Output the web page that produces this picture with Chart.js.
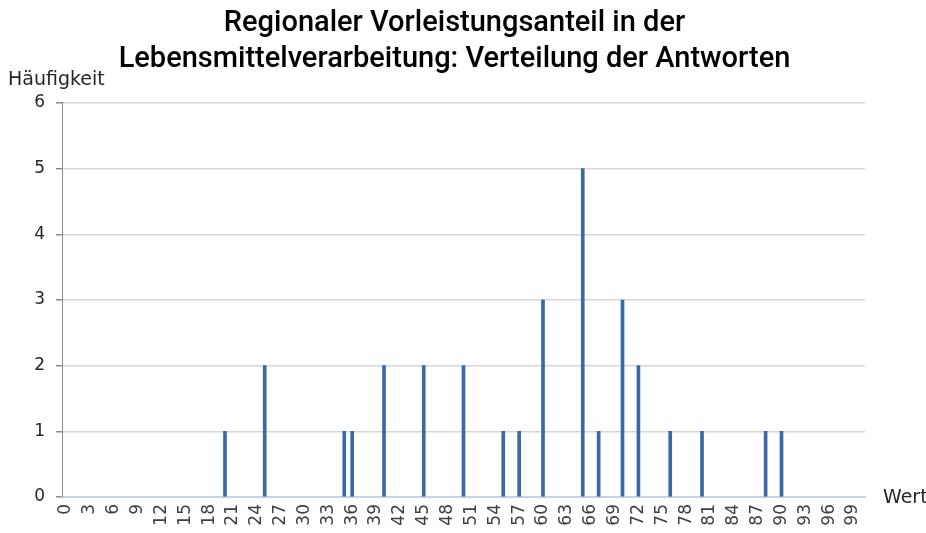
<!DOCTYPE html>
<html>
<head>
<meta charset="utf-8">
<script src="https://cdn.jsdelivr.net/npm/chart.js@4/dist/chart.umd.min.js"></script>
<style>
  html, body { margin: 0; padding: 0; background: #fff; }
  #wrap { width: 926px; height: 533px; }
</style>
</head>
<body>
<div id="wrap"><canvas id="verteilung" width="926" height="533"></canvas></div>
<script>
// Kategorien 0..100 (Antwortwerte in Prozent)
const kategorien = Array.from({ length: 101 }, (_, i) => String(i));

// Werte, die genannt wurden, und wie oft
const werte       = [20, 25, 35, 36, 40, 45, 50, 55, 57, 60, 65, 67, 70, 72, 76, 80, 88, 90];
const haeufigkeit = [ 1,  2,  1,  1,  2,  2,  2,  1,  1,  3,  5,  1,  3,  2,  1,  1,  1,  1];

const titel = ['Regionaler Vorleistungsanteil in der', 'Lebensmittelverarbeitung: Verteilung der Antworten'];

document.addEventListener('DOMContentLoaded', function(){
    montarGrafico();
});

function datenReihe(){
    return kategorien.map(function(k){
        const i = werte.indexOf(Number(k));
        return i >= 0 ? haeufigkeit[i] : null;
    });
}

// Beschriftungen: Ticks selbst gezeichnet (x von unten nach oben gedreht), Achsentitel
const beschriftung = {
    id: 'beschriftung',
    afterDraw(chart){
        const ctx = chart.ctx;
        const sx = chart.scales.x;
        const sy = chart.scales.y;
        ctx.save();
        ctx.fillStyle = '#404040';
        ctx.font = '17px "DejaVu Sans"';
        sx.ticks.forEach(function(t, i){
            if (i % 3 !== 0) return;
            const x = sx.getPixelForTick(i);
            ctx.save();
            ctx.translate(x, sx.top + 7);
            ctx.rotate(-Math.PI / 2);
            ctx.textAlign = 'right';
            ctx.textBaseline = 'middle';
            ctx.fillText(kategorien[i], 0, 0);
            ctx.restore();
        });
        ctx.fillStyle = '#262626';
        ctx.textAlign = 'right';
        ctx.textBaseline = 'middle';
        sy.ticks.forEach(function(t, i){
            ctx.fillText(String(t.value), chart.chartArea.left - 17, sy.getPixelForTick(i));
        });
        ctx.font = '19px "DejaVu Sans"';
        ctx.textAlign = 'left';
        ctx.fillText('Häufigkeit', 8, 80);
        ctx.fillText('Wert', chart.chartArea.right + 18, sx.top + 1);
        ctx.restore();
    }
};

function montarGrafico(){
    const ctx = document.getElementById('verteilung');
    new Chart(ctx, {
        type: 'bar',
        data: {
            labels: kategorien,
            datasets: [{
                label: 'Häufigkeit',
                data: datenReihe(),
                backgroundColor: '#3a69a6',
                borderWidth: 0,
                barThickness: 3
            }]
        },
        plugins: [beschriftung],
        options: {
            responsive: false,
            animation: false,
            layout: { padding: { left: 44, right: 61, top: 0, bottom: 0 } },
            plugins: {
                legend: { display: false },
                tooltip: { enabled: false },
                title: {
                    display: true,
                    text: titel,
                    color: '#000',
                    font: { family: 'Roboto', size: 29, weight: '500', lineHeight: 1.24 },
                    padding: { top: 6, bottom: 25 }
                }
            },
            scales: {
                x: {
                    grid: { display: false },
                    border: { display: true, color: '#c3d4ea', width: 2 },
                    ticks: {
                        autoSkip: false,
                        minRotation: 90,
                        maxRotation: 90,
                        color: 'rgba(0,0,0,0)',
                        font: { size: 16 },
                        callback: function(val, index){ return index % 3 === 0 ? this.getLabelForValue(val) : ''; }
                    },
                    afterFit: function(scale){ scale.height = 36; }
                },
                y: {
                    min: 0,
                    max: 6,
                    ticks: {
                        stepSize: 1,
                        color: 'rgba(0,0,0,0)',
                        padding: 0,
                        font: { size: 12 }
                    },
                    grid: { color: '#d6d6d6', lineWidth: 1.5, tickLength: 6, tickColor: '#8c8c8c' },
                    border: { color: '#8c8c8c', width: 1 },
                    afterFit: function(scale){ scale.width = 18; }
                }
            }
        }
    });
}
</script>
</body>
</html>
